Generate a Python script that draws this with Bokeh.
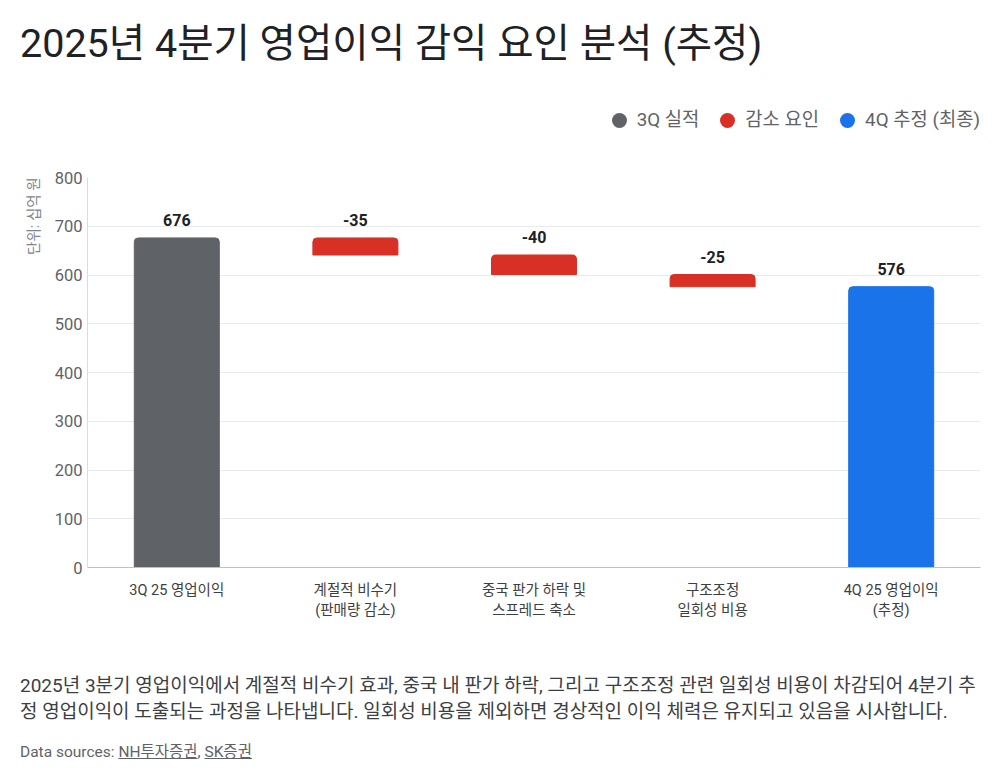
from bokeh.plotting import figure
from bokeh.models import ColumnDataSource, Div, FactorRange, Range1d, FixedTicker, Title
from bokeh.layouts import column
from bokeh.embed import file_html
from bokeh.resources import INLINE
from bokeh.core.properties import value

# ---------------- data ----------------
title_text = "2025년 4분기 영업이익 감익 요인 분석 (추정)"
categories = ["3Q 25 영업이익", "계절적 비수기\n(판매량 감소)", "중국 판가 하락 및\n스프레드 축소",
              "구조조정\n일회성 비용", "4Q 25 영업이익\n(추정)"]
values = [676, -35, -40, -25, 576]
kinds = ["total", "decrease", "decrease", "decrease", "total"]
bar_colors = ["#5f6368", "#d93025", "#d93025", "#d93025", "#1a73e8"]
legend_labels = ["3Q 실적", "감소 요인", "4Q 추정 (최종)"]
legend_colors = ["#5f6368", "#d93025", "#1a73e8"]
y_ticks = [0, 100, 200, 300, 400, 500, 600, 700, 800]
y_axis_title = "단위: 십억 원"
footer_text = ("2025년 3분기 영업이익에서 계절적 비수기 효과, 중국 내 판가 하락, 그리고 구조조정 관련 일회성 비용이 "
               "차감되어 4분기 추정 영업이익이 도출되는 과정을 나타냅니다. 일회성 비용을 제외하면 경상적인 이익 체력은 "
               "유지되고 있음을 시사합니다.")
sources = ["NH투자증권", "SK증권"]

FONT = "Roboto, 'Noto Sans CJK KR', 'Noto Sans', sans-serif"

# ---------------- waterfall geometry from data ----------------
bottoms, tops = [], []
running = 0
for v, k in zip(values, kinds):
    if k == "total":
        bottoms.append(0)
        tops.append(v)
        running = v
    else:
        tops.append(running)
        bottoms.append(running + v)
        running = running + v
label_y = [max(b, t) for b, t in zip(bottoms, tops)]
labels = [str(v) for v in values]

src = ColumnDataSource(dict(x=categories, bottom=bottoms, top=tops, color=bar_colors,
                            ly=label_y, txt=labels))

p = figure(x_range=FactorRange(*categories), y_range=Range1d(0, 800),
           width=1000, height=515, output_backend="svg", toolbar_location=None,
           min_border_top=37, min_border_bottom=88, min_border_left=87, min_border_right=20,
           margin=0)
p.outline_line_color = None
p.background_fill_color = "white"

p.vbar(x="x", bottom="bottom", top="top", width=0.476, color="color", source=src,
       border_radius=(4, 4, 0, 0))

p.text(x="x", y="ly", text="txt", source=src, text_align="center", text_baseline="bottom",
       y_offset=-12, text_font=value(FONT), text_font_size="16px", text_font_style="bold",
       text_color="#202124")

# axes
p.xgrid.grid_line_color = None
p.ygrid.grid_line_color = "#e8eaed"
p.ygrid.grid_line_width = 1
p.yaxis.ticker = FixedTicker(ticks=y_ticks)
p.yaxis.axis_line_color = "#dadce0"
p.yaxis.major_tick_line_color = None
p.yaxis.major_tick_out = 0
p.yaxis.minor_tick_line_color = None
p.yaxis.minor_tick_out = 0
p.yaxis.major_label_text_font = FONT
p.yaxis.major_label_text_font_size = "16.5px"
p.yaxis.major_label_text_color = "#5f6368"
p.yaxis.major_label_standoff = 5

p.xaxis.axis_line_color = "#bdc1c6"
p.xaxis.major_tick_line_color = None
p.xaxis.major_tick_out = 0
p.xaxis.minor_tick_line_color = None
p.xaxis.minor_tick_out = 0
p.xaxis.major_label_text_font = FONT
p.xaxis.major_label_text_font_size = "14.5px"
p.xaxis.major_label_text_color = "#3c4043"
p.xaxis.major_label_standoff = 14

# y axis unit title on the left, aligned to the top of the frame
p.add_layout(Title(text=y_axis_title, align="right", text_font=FONT, text_font_size="14.5px",
                   text_font_style="normal", text_color="#80868b", standoff=18), "left")

# ---------------- header: title + legend ----------------
legend_html = ""
for i, (lab, col) in enumerate(zip(legend_labels, legend_colors)):
    ml = "0" if i == 0 else "21px"
    legend_html += (f'<span style="display:inline-block;width:15px;height:15px;border-radius:50%;'
                    f'background:{col};margin-left:{ml};margin-right:10px"></span>'
                    f'<span>{lab}</span>')

header_div = Div(text=(f'<div style="position:relative;width:1000px;height:140px;font-family:{FONT}">'
                       f'<div style="position:absolute;left:20px;top:0;line-height:88px;font-size:39.5px;'
                       f'color:#202124;white-space:nowrap">{title_text}</div>'
                       f'<div style="position:absolute;right:20px;top:108px;height:24px;display:flex;'
                       f'align-items:center;font-size:18.8px;color:#5f6368;white-space:nowrap">'
                       f'{legend_html}</div></div>'),
                 width=1000, height=140, margin=0)

src_html = ", ".join(f'<u>{s}</u>' for s in sources)
footer_div = Div(text=(f'<div style="font-family:{FONT};font-size:19px;line-height:26px;color:#3c4043;'
                       f'width:962px;margin-left:20px;padding-top:18px">{footer_text}</div>'
                       f'<div style="font-family:{FONT};font-size:15.5px;line-height:20px;color:#5f6368;'
                       f'margin-left:20px;margin-top:17px">Data sources: {src_html}</div>'),
                 width=1000, height=128, margin=0)

layout = column(header_div, p, footer_div, spacing=0)
open("out.html", "w").write(file_html(layout, INLINE))
